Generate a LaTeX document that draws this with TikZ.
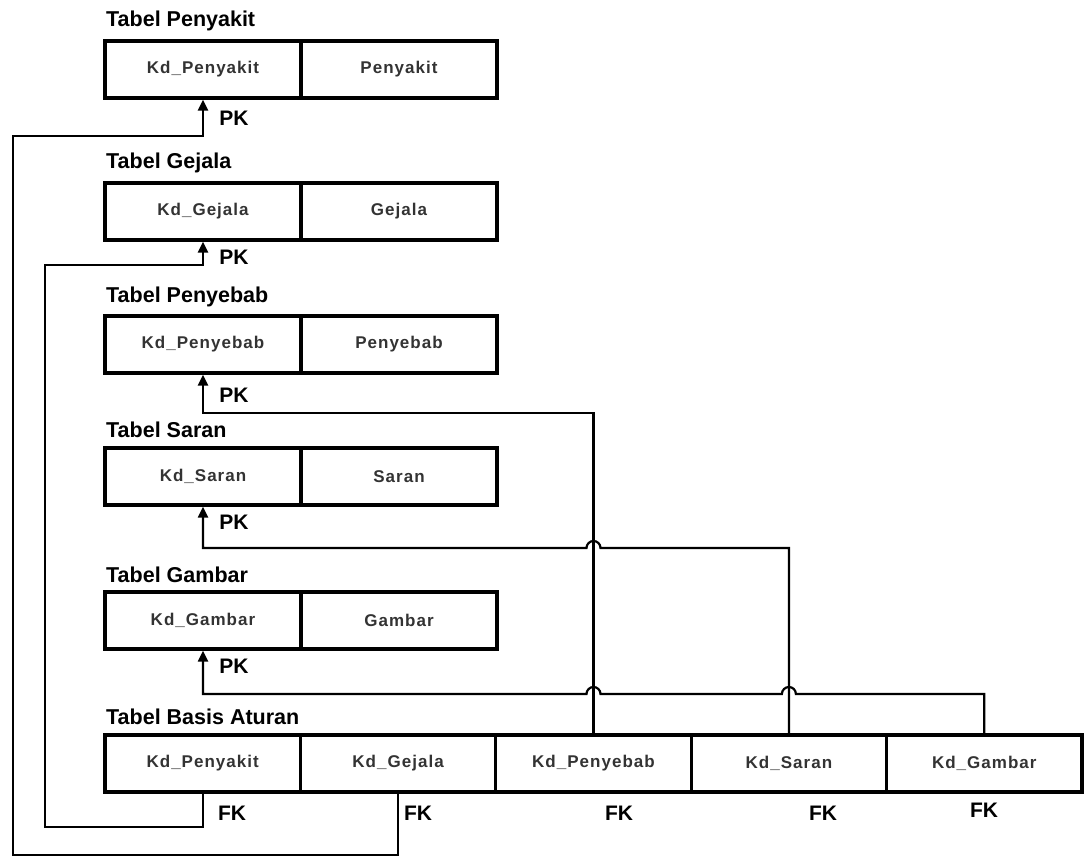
\documentclass[tikz,border=0pt]{standalone}
\usepackage{fontspec}
\setmainfont{Liberation Sans}
\newfontfamily\cellfont[LetterSpace=6]{Liberation Sans}
\usetikzlibrary{arrows.meta,calc}
\begin{document}
\begin{tikzpicture}[x=1pt,y=-1pt,
  cell/.style={draw, line width=3.3pt, minimum height=57pt, inner sep=0pt, outer sep=1.65pt,
    font=\cellfont\bfseries\fontsize{17}{19}\selectfont, text=black!80},
  cellA/.style={cell, minimum width=196pt},
  cellB/.style={cell, minimum width=195.4pt},
  ttl/.style={anchor=west, font=\bfseries\fontsize{21.5}{25}\selectfont, inner sep=0pt},
  key/.style={font=\bfseries\fontsize{21}{24}\selectfont, inner sep=0pt},
  link/.style={line width=2.2pt, line join=miter},
  arr/.style={link, -{Triangle[length=11pt,width=10pt]}}
]
\useasboundingbox (0,0) rectangle (1086,857);

% Tabel Penyakit
\node[ttl] (t1) at (106,21) {Tabel Penyakit};
\node[cellA] (p1) at (203,69.5) {Kd\_Penyakit};
\node[cellA] (p2) at (399,69.5) {Penyakit};
\node[key] (pk1) at (234,118) {PK};

% Tabel Gejala
\node[ttl] (t2) at (106,163) {Tabel Gejala};
\node[cellA] (g1) at (203,211.5) {Kd\_Gejala};
\node[cellA] (g2) at (399,211.5) {Gejala};
\node[key] (pk2) at (234,257) {PK};

% Tabel Penyebab
\node[ttl] (t3) at (106,297) {Tabel Penyebab};
\node[cellA] (s1) at (203,344.5) {Kd\_Penyebab};
\node[cellA] (s2) at (399,344.5) {Penyebab};
\node[key] (pk3) at (234,395) {PK};

% Tabel Saran
\node[ttl] (t4) at (106,430) {Tabel Saran};
\node[cellA] (sa1) at (203,476.5) {Kd\_Saran};
\node[cellA] (sa2) at (399,476.5) {Saran};
\node[key] (pk4) at (234,522) {PK};

% Tabel Gambar
\node[ttl] (t5) at (106,575) {Tabel Gambar};
\node[cellA] (ga1) at (203,620.5) {Kd\_Gambar};
\node[cellA] (ga2) at (399,620.5) {Gambar};
\node[key] (pk5) at (234,666) {PK};

% Tabel Basis Aturan
\node[ttl] (t6) at (106,717) {Tabel Basis Aturan};
\node[cellB] (bas1) at (202.7,763.5) {Kd\_Penyakit};
\node[cellB] (bas2) at (398.1,763.5) {Kd\_Gejala};
\node[cellB] (bas3) at (593.5,763.5) {Kd\_Penyebab};
\node[cellB] (bas4) at (788.9,763.5) {Kd\_Saran};
\node[cellB] (bas5) at (984.3,763.5) {Kd\_Gambar};
\node[key] (fk1) at (232,813) {FK};
\node[key] (fk2) at (418,813) {FK};
\node[key] (fk3) at (619,813) {FK};
\node[key] (fk4) at (823,813) {FK};
\node[key] (fk5) at (984,810) {FK};

% rails
\coordinate (ob) at (13,855);
\coordinate (ot) at (13,136);
\coordinate (ib) at (45,827);
\coordinate (it) at (45,265);
\coordinate (r3) at (0,413);
\coordinate (r4) at (0,548);
\coordinate (r5) at (0,694);

% connectors
\draw[arr] (bas2.south) |- (ob) -- (ot) -| (p1.south);
\draw[arr] (bas1.south) |- (ib) -- (it) -| (g1.south);
\draw[arr] (bas3.north) -- (bas3.north |- r3) -| (s1.south);
\draw[arr] (bas4.north) -- (bas4.north |- r4)
  -- ($(bas3.north |- r4)+(7,0)$) arc[start angle=0,end angle=180,radius=7pt]
  -| (sa1.south);
\draw[arr] (bas5.north) -- (bas5.north |- r5)
  -- ($(bas4.north |- r5)+(7,0)$) arc[start angle=0,end angle=180,radius=7pt]
  -- ($(bas3.north |- r5)+(7,0)$) arc[start angle=0,end angle=180,radius=7pt]
  -| (ga1.south);
\end{tikzpicture}
\end{document}
